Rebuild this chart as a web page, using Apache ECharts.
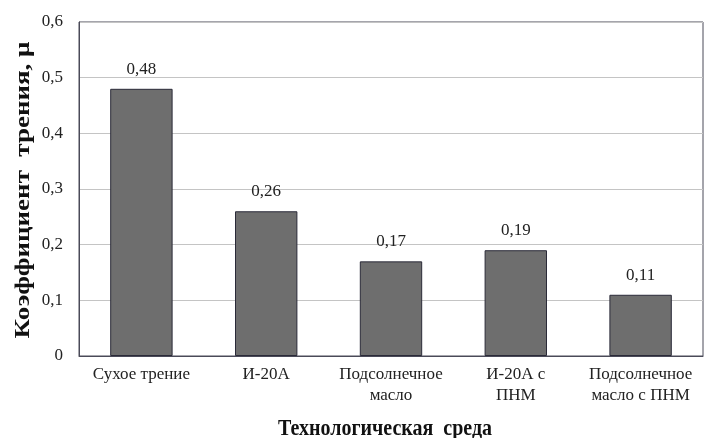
<!DOCTYPE html>
<html>
<head>
<meta charset="utf-8">
<script src="https://cdn.jsdelivr.net/npm/echarts@6/dist/echarts.min.js"></script>
<style>
  html, body { margin: 0; padding: 0; background: #fff; }
  #chart { width: 710px; height: 438px; }
</style>
</head>
<body>
<div id="chart"></div>
<script>
// Friction coefficient by lubricating medium
const categories = ['Сухое трение', 'И-20А', 'Подсолнечное\nмасло', 'И-20А с\nПНМ', 'Подсолнечное\nмасло с ПНМ'];
const frictionValues = [0.48, 0.26, 0.17, 0.19, 0.11];
const yTicks = { min: 0, max: 0.6, interval: 0.1 };
const yAxisTitle = 'Коэффициент  трения, μ';
const xAxisTitle = 'Технологическая  среда';

const fmtComma = v => (v === 0 ? '0' : String(+v.toFixed(2)).replace('.', ','));
const serif = '"Liberation Serif", "Times New Roman", serif';

const chart = echarts.init(document.getElementById('chart'));
chart.setOption({
  animation: false,
  backgroundColor: '#ffffff',
  grid: {
    left: 79, right: 7, top: 22, bottom: 82,
    show: true, borderColor: '#4a4a58', borderWidth: 1
  },
  // Axis titles, drawn as tall (vertically stretched) bold serif text
  graphic: [
    {
      type: 'text',
      x: 24, y: 190,
      rotation: Math.PI / 2,
      scaleX: 1.42, scaleY: 1.05,
      style: {
        text: yAxisTitle,
        font: 'bold 19px ' + serif,
        fill: '#111',
        textAlign: 'center',
        textVerticalAlign: 'middle'
      }
    },
    {
      type: 'text',
      x: 385, y: 429,
      scaleX: 1.0, scaleY: 1.12,
      style: {
        text: xAxisTitle,
        font: 'bold 20px ' + serif,
        fill: '#111',
        textAlign: 'center',
        textVerticalAlign: 'middle'
      }
    }
  ],
  xAxis: {
    type: 'category',
    data: categories,
    axisLine: { show: true, lineStyle: { color: '#4a4a58' } },
    axisTick: { show: false },
    axisLabel: { fontFamily: serif, fontSize: 17, color: '#222', margin: 8, lineHeight: 21, interval: 0 }
  },
  yAxis: {
    type: 'value',
    min: yTicks.min, max: yTicks.max, interval: yTicks.interval,
    axisLine: { show: true, lineStyle: { color: '#4a4a58' } },
    axisTick: { show: false },
    splitLine: { lineStyle: { color: '#c4c4c4', width: 1 } },
    axisLabel: { fontFamily: serif, fontSize: 17, color: '#222', margin: 16, formatter: fmtComma }
  },
  series: [{
    type: 'bar',
    data: frictionValues,
    barWidth: '50%',
    itemStyle: { color: '#6e6e6e', borderColor: '#2a2a38', borderWidth: 1 },
    label: {
      show: true, position: 'top', distance: 11,
      fontFamily: serif, fontSize: 17, color: '#222',
      formatter: p => fmtComma(p.value)
    }
  }]
});
</script>
</body>
</html>
